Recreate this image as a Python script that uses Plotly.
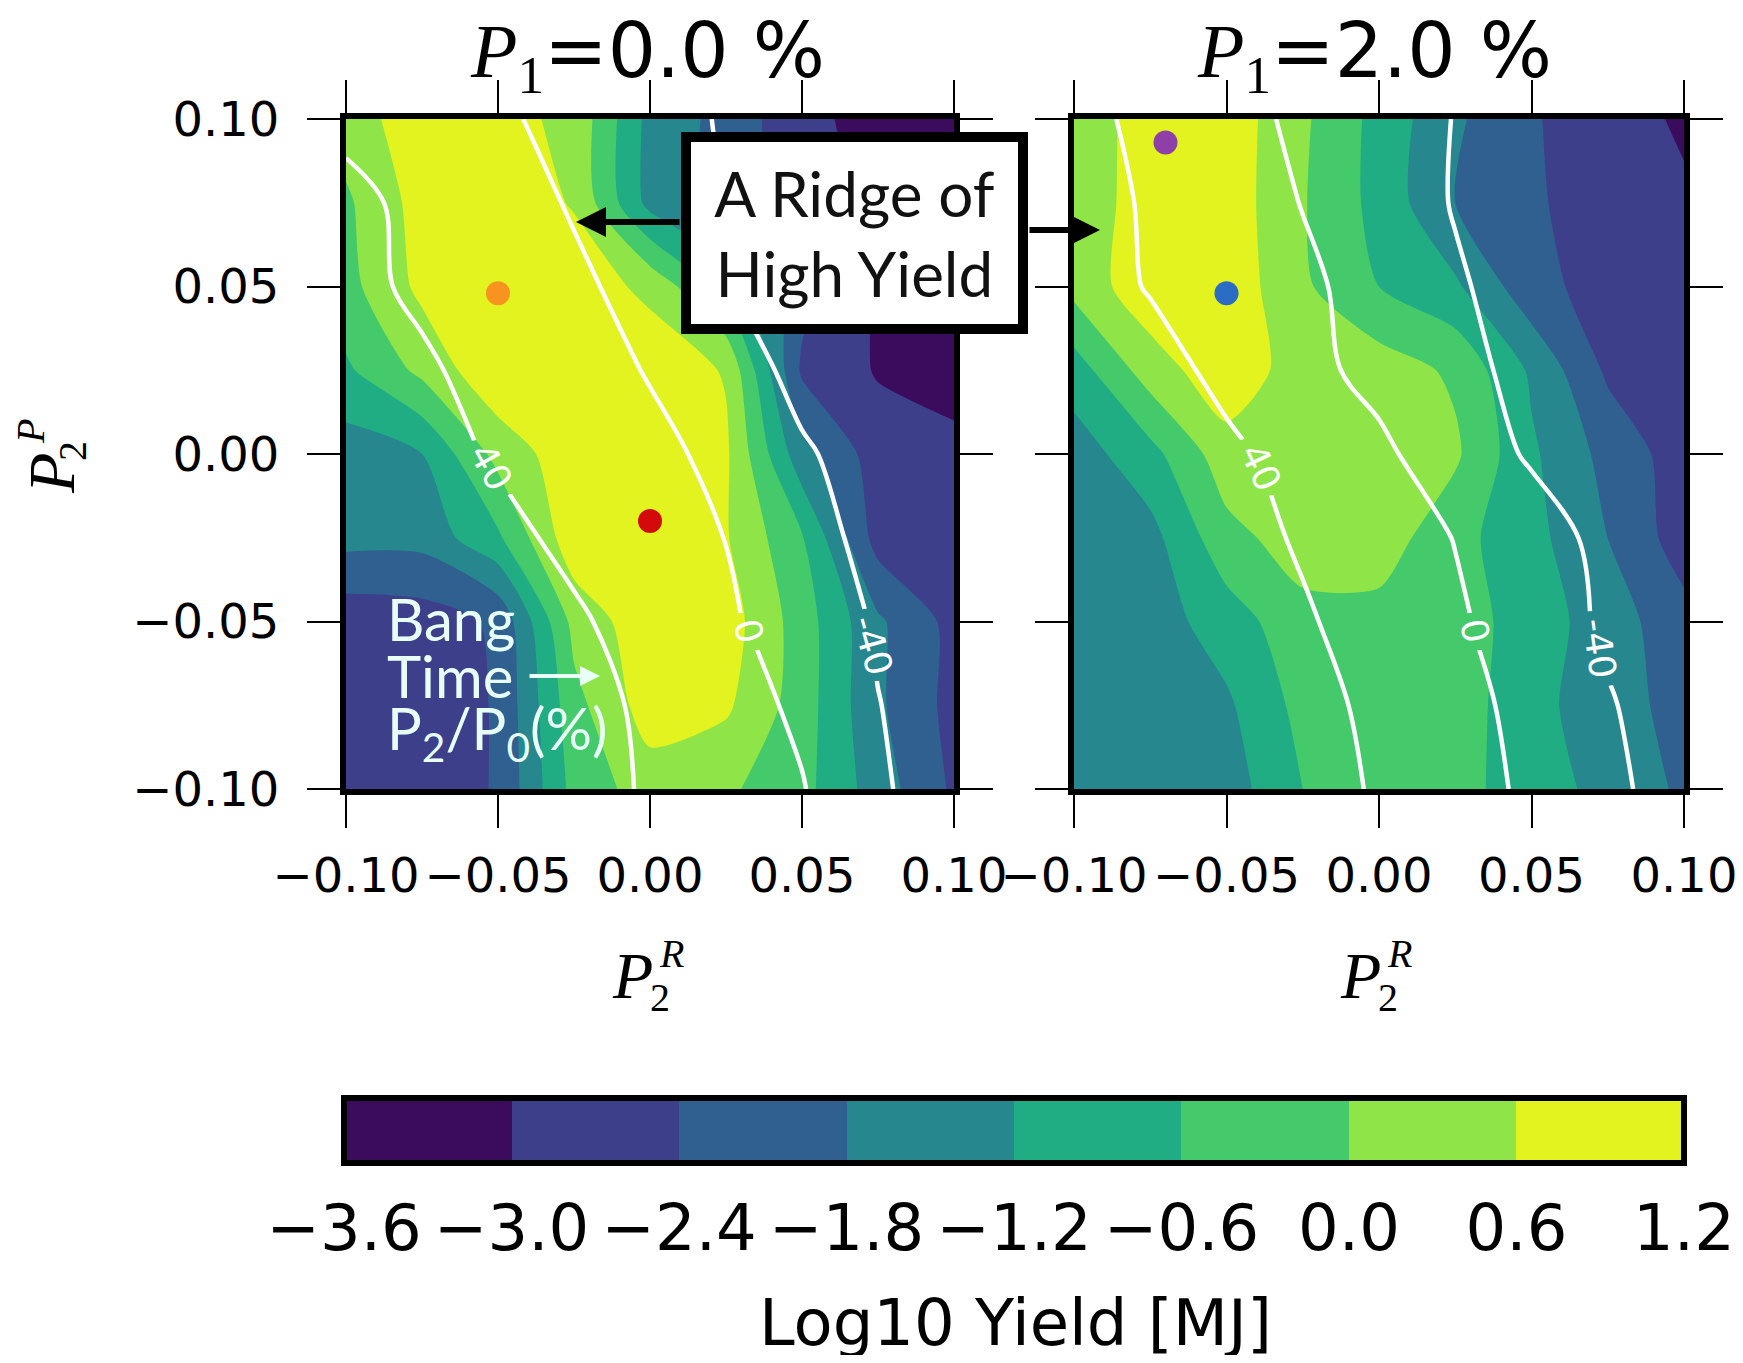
import math
import plotly.graph_objects as go

W, H = 1743, 1363          # reference picture size
OFF = 8                    # page body margin of the html page
SHIFT_X = 4                # small left shift so the right-most labels fit
WF, HF = W - 2 * OFF, H - 2 * OFF

# ---------------- data ----------------
p2r = [-0.1, -0.075, -0.05, -0.025, 0.0, 0.025, 0.05, 0.075, 0.1]
p2p = [0.1, 0.075, 0.05, 0.025, 0.0, -0.025, -0.05, -0.075, -0.1]   # rows listed top -> bottom

yield_p1_0 = [
    [0.3, 0.95, 0.8, 0.45, -1.4, -2.0, -2.85, -3.2, -3.3],
    [-0.1, 0.85, 1.0, 0.55, -1.4, -2.0, -2.7, -3.15, -3.3],
    [-0.2, 0.75, 1.0, 0.95, 0.45, -0.8, -2.2, -3.1, -3.3],
    [-0.7, 0.15, 1.1, 1.1, 1.0, 0.55, -2.5, -3.05, -3.3],
    [-1.5, -1.2, 0.2, 1.0, 1.05, 0.7, -1.6, -2.7, -2.8],
    [-1.6, -1.6, -0.7, 1.0, 1.05, 0.65, -0.55, -2.65, -2.75],
    [-2.8, -2.7, -2.3, 0.2, 1.0, 0.9, -0.3, -1.7, -2.6],
    [-2.8, -2.75, -2.35, -0.2, 0.9, 0.7, -0.3, -1.7, -2.6],
    [-2.8, -2.75, -2.35, -0.4, 0.3, 0.1, -0.4, -1.5, -2.5],
]
yield_p1_2 = [
    [0.2, 0.9, 0.95, 0.1, -0.8, -1.7, -2.35, -2.7, -3.1],
    [0.1, 1.0, 0.95, 0.05, -0.8, -1.8, -2.3, -2.75, -2.9],
    [0.2, 1.0, 1.0, 0.1, -0.6, -1.1, -2.2, -2.65, -2.85],
    [-0.9, 0.3, 1.0, 0.3, 0.3, -0.1, -1.3, -2.5, -2.8],
    [-1.5, -0.8, 0.35, 0.3, 0.25, 0.1, -1.1, -2.0, -2.7],
    [-1.6, -1.4, -0.2, 0.3, 0.3, -0.4, -1.0, -1.8, -2.7],
    [-1.6, -1.5, -0.9, -0.2, -0.2, -0.3, -0.9, -1.5, -2.2],
    [-1.6, -1.55, -1.3, -0.4, -0.2, -0.3, -1.0, -1.55, -2.0],
    [-1.6, -1.6, -1.5, -0.6, -0.2, -0.4, -0.9, -1.4, -1.9],
]
bang_p1_0 = [
    [33, 24, 6, -12, -27, -43, -60, -77, -94],
    [48, 32, 15, -3, -22, -41, -58, -75, -92],
    [48, 35, 20, 6, -11.5, -38, -55, -72, -89],
    [55, 44, 30, 14, -2, -22, -50, -68, -85],
    [62, 50, 37, 22, 8, -8, -36, -55, -72],
    [75, 62, 48, 33, 16, -0.5, -25, -52, -70],
    [85, 72, 60, 44, 28, 4, -14, -44, -65],
    [90, 78, 66, 52, 34, 16, -7, -39, -60],
    [92, 80, 68, 55, 36, 16, 2, -35, -60],
]
bang_p1_2 = [
    [50, 32, 13, -7, -23, -41, -58, -75, -92],
    [55, 36, 18, -1, -20, -42, -60, -77, -94],
    [55, 38, 22, 6, -12, -36, -55, -72, -89],
    [68, 52, 32, 10, -10, -30, -50, -68, -86],
    [78, 62, 46, 30, 7, -20, -44, -62, -80],
    [88, 72, 54, 36, 18, -1, -24, -50, -70],
    [95, 78, 61, 44, 25, 5, -18, -46, -66],
    [100, 85, 68, 52, 32, 11, -10, -37, -60],
    [102, 88, 72, 56, 36, 14, -6, -32, -56],
]

yield_levels = [-3.6, -3.0, -2.4, -1.8, -1.2, -0.6, 0.0, 0.6, 1.2]
bang_levels = [-40, 0, 40]
axis_ticks = [-0.10, -0.05, 0.00, 0.05, 0.10]

points_p1_0_x = [-0.05, 0.0]
points_p1_0_y = [0.048, -0.020]
points_p1_0_c = ['#f7931e', '#d40a0a']
points_p1_2_x = [-0.07, -0.05]
points_p1_2_y = [0.093, 0.048]
points_p1_2_c = ['#8e3fa8', '#2b6cc4']

panel_titles = ['0.0', '2.0']

band_colors = ['#3b0b5e', '#3e3f8b', '#2f6090', '#26878e',
               '#20ad84', '#44c96b', '#8fe548', '#e2f31f']

# where each contour label sits (height on the line, text angle)
label_spots_p1_0 = {40: (-0.004, 61), 0: (-0.053, 76), -40: (-0.057, 74)}
label_spots_p1_2 = {40: (-0.004, 65), 0: (-0.053, 78), -40: (-0.058, 82)}
LABEL_SIZE = 37

# ---------------- helpers ----------------
def fx(p):
    return (p - OFF - SHIFT_X) / WF

def fy(p):
    return 1 - (p - OFF) / HF

def fmt(v, d):
    s = f'{v:.{d}f}'
    return s.replace('-', '\u2212')

def row_at(z, y):
    for j in range(len(p2p) - 1):
        if p2p[j] >= y >= p2p[j + 1]:
            t = (p2p[j] - y) / (p2p[j] - p2p[j + 1])
            return [a * (1 - t) + b * t for a, b in zip(z[j], z[j + 1])]
    return list(z[-1])

def piece(z, y_hi, y_lo):
    ys, rows = [y_hi], [row_at(z, y_hi)]
    for j, yy in enumerate(p2p):
        if y_lo < yy < y_hi:
            ys.append(yy)
            rows.append(z[j])
    ys.append(y_lo)
    rows.append(row_at(z, y_lo))
    return ys[::-1], rows[::-1]

def crossing_x(z, y, level):
    r = row_at(z, y)
    for i in range(len(p2r) - 1):
        a, b = r[i], r[i + 1]
        if (a - level) * (b - level) <= 0 and a != b:
            return p2r[i] + (p2r[i + 1] - p2r[i]) * (a - level) / (a - b)
    return None

PX_PER_Y = (789 - 119) / 0.2

cscale = []
nb = len(band_colors)
for i, c in enumerate(band_colors):
    cscale.append([i / nb, c])
    cscale.append([(i + 1) / nb, c])

fig = go.Figure()

panels = [
    (yield_p1_0, bang_p1_0, points_p1_0_x, points_p1_0_y, points_p1_0_c, 'x', 'y', label_spots_p1_0),
    (yield_p1_2, bang_p1_2, points_p1_2_x, points_p1_2_y, points_p1_2_c, 'x2', 'y2', label_spots_p1_2),
]
step = yield_levels[1] - yield_levels[0]
ann = []
for zy, zb, px_, py_, pc, xa, ya, spots in panels:
    fig.add_trace(go.Contour(
        x=p2r, y=p2p[::-1], z=zy[::-1], xaxis=xa, yaxis=ya,
        contours=dict(start=yield_levels[0], end=yield_levels[-1], size=step, coloring='fill'),
        colorscale=cscale, line=dict(width=0, smoothing=0.7),
        showscale=False, hoverinfo='skip'))
    # white bang-time lines, each level drawn in two pieces leaving a gap for its label
    for lev in bang_levels:
        ly, ang = spots[lev]
        txt = f'{lev:d}'
        txt_len = LABEL_SIZE * sum(0.361 if ch == '-' else 0.636 for ch in txt)
        half_gap = (txt_len / 2 + 7) * math.sin(math.radians(ang)) / PX_PER_Y
        for y_hi, y_lo in [(p2p[0], ly + half_gap), (ly - half_gap, p2p[-1])]:
            ys, rows = piece(zb, y_hi, y_lo)
            fig.add_trace(go.Contour(
                x=p2r, y=ys, z=rows, xaxis=xa, yaxis=ya,
                contours=dict(start=lev, end=lev, size=1, coloring='none', showlabels=False),
                line=dict(color='white', width=4.5, smoothing=1),
                showscale=False, hoverinfo='skip'))
        lx = crossing_x(zb, ly, lev)
        ann.append(dict(x=lx, y=ly, xref=xa, yref=ya, showarrow=False, text=txt,
                        textangle=ang, xanchor='center', yanchor='middle',
                        font=dict(family='DejaVu Sans', size=LABEL_SIZE, color='white')))
    fig.add_trace(go.Scatter(
        x=px_, y=py_, xaxis=xa, yaxis=ya, mode='markers',
        marker=dict(color=pc, size=24, line=dict(width=0)),
        showlegend=False, hoverinfo='skip'))

# colour bar
fig.add_trace(go.Scatter(
    x=[None] * len(yield_levels), y=[None] * len(yield_levels), mode='markers',
    marker=dict(color=yield_levels, colorscale=cscale, cmin=yield_levels[0], cmax=yield_levels[-1],
                showscale=True,
                colorbar=dict(orientation='h', x=fx((348 + 1688) / 2), xanchor='center',
                              len=(1688 - 348) / WF, lenmode='fraction',
                              y=fy(1098), yanchor='top', thickness=65, thicknessmode='pixels',
                              xpad=0, ypad=0, outlinewidth=6, outlinecolor='black',
                              tickmode='array', tickvals=yield_levels,
                              ticktext=[fmt(v, 1) for v in yield_levels],
                              ticks='outside', ticklen=8, tickcolor='rgba(0,0,0,0)',
                              ticklabeloverflow='allow',
                              tickfont=dict(family='DejaVu Sans', size=64, color='black'))),
    showlegend=False, hoverinfo='skip'))

axis_common = dict(range=[-0.1, 0.1], tickmode='array', tickvals=axis_ticks,
                   ticktext=[fmt(v, 2) for v in axis_ticks],
                   ticks='outside', ticklen=33, tickwidth=2, tickcolor='black',
                   showline=True, linewidth=6, linecolor='black', mirror='ticks',
                   showgrid=False, zeroline=False, automargin=False,
                   ticklabeloverflow='allow',
                   tickfont=dict(family='DejaVu Sans', size=48, color='black'))

fig.update_layout(
    width=WF, height=HF, margin=dict(l=0, r=0, t=0, b=0, autoexpand=False),
    paper_bgcolor='white', plot_bgcolor='white', showlegend=False,
    xaxis=dict(domain=[fx(350), fx(958)], anchor='y', ticklabelstandoff=6, **axis_common),
    yaxis=dict(domain=[fy(789), fy(119)], anchor='x', ticklabelstandoff=18, **axis_common),
    xaxis2=dict(domain=[fx(1078), fx(1688)], anchor='y2', ticklabelstandoff=6, **axis_common),
    yaxis2=dict(domain=[fy(789), fy(119)], anchor='x2', showticklabels=False, **axis_common),
)

serif = 'Liberation Serif'

def paper_text(x, y, text, font, **kw):
    d = dict(x=fx(x), y=fy(y), xref='paper', yref='paper', showarrow=False, text=text,
             font=font, xanchor='center', yanchor='middle')
    d.update(kw)
    ann.append(d)

# panel titles
for cx, val in zip([651, 1378], panel_titles):
    paper_text(cx, 55, f'<span style="font-family:{serif}"><i>P</i><sub>1</sub></span>={val} %',
               dict(family='DejaVu Sans', size=76, color='black'))
# x-axis labels (P with stacked sub/sup)
for off in [0, 728]:
    paper_text(636 + off, 975, '<i>P</i>', dict(family=serif, size=66, color='black'))
    paper_text(675 + off, 953, '<i>R</i>', dict(family=serif, size=40, color='black'))
    paper_text(664 + off, 997, '2', dict(family=serif, size=40, color='black'))
# y-axis label (rotated)
paper_text(55, 474, '<i>P</i>', dict(family=serif, size=66, color='black'), textangle=-90)
paper_text(34, 432, '<i>P</i>', dict(family=serif, size=40, color='black'), textangle=-90)
paper_text(76, 451, '2', dict(family=serif, size=40, color='black'), textangle=-90)
# colour bar title
paper_text(1020, 1323, 'Log10 Yield [MJ]', dict(family='DejaVu Sans', size=64, color='black'))
# ridge box
paper_text(858.5, 233, 'A Ridge of<br>High Yield', dict(family='Lato', size=62, color='#111111'),
           align='center', bgcolor='white', bordercolor='black', borderwidth=10, borderpad=6,
           width=315, height=170)
ann.append(dict(x=fx(580), y=fy(222), xref='paper', yref='paper', text='', showarrow=True,
                ax=105, ay=0, arrowhead=2, arrowsize=1, arrowwidth=6, arrowcolor='black'))
ann.append(dict(x=fx(1104), y=fy(230), xref='paper', yref='paper', text='', showarrow=True,
                ax=-72, ay=0, arrowhead=2, arrowsize=1, arrowwidth=6, arrowcolor='black'))
# bang time note
note_col = '#e8fff8'
for txt, yc in [('Bang', 618), ('Time', 675), ('P<sub>2</sub>/P<sub>0</sub>(%)', 732)]:
    paper_text(389, yc, txt, dict(family='Lato', size=58, color=note_col), xanchor='left')
ann.append(dict(x=fx(604), y=fy(676), xref='paper', yref='paper', text='', showarrow=True,
                ax=-72, ay=0, arrowhead=2, arrowsize=1, arrowwidth=4, arrowcolor=note_col))

fig.update_layout(annotations=ann)

fig.write_html('out.html')
